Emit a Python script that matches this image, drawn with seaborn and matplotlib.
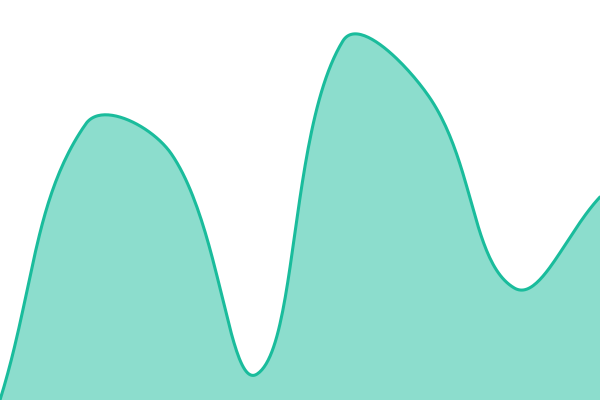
import numpy as np
import pandas as pd
import matplotlib
matplotlib.use("Agg")
import matplotlib.pyplot as plt
import seaborn as sns

# values (y axis 0..100, no axes shown)
positions = [0, 1, 2, 3, 4, 5, 6, 7]
values = [0, 69, 61.5, 6.5, 89.75, 76, 28, 50.75]

LINE_COLOR = "#1abc9c"
W, H = 600, 400
Y_MAX = 100
TENSION = 0.4


def spline_path(px, py, tension=TENSION, steps=50):
    """tension spline like the one chart.js draws, worked in pixels"""
    pts = np.column_stack([px, py]).astype(float)
    n = len(pts)
    prev_ctrl, next_ctrl = [], []
    for i in range(n):
        p_prev = pts[max(i - 1, 0)]
        p_cur = pts[i]
        p_next = pts[min(i + 1, n - 1)]
        d01 = np.linalg.norm(p_cur - p_prev)
        d12 = np.linalg.norm(p_next - p_cur)
        tot = d01 + d12
        s01 = d01 / tot if tot else 0
        s12 = d12 / tot if tot else 0
        fa, fb = tension * s01, tension * s12
        c_prev = p_cur - fa * (p_next - p_prev)
        c_next = p_cur + fb * (p_next - p_prev)
        # keep control points inside the plot area
        c_prev = np.clip(c_prev, [0, 0], [W, H])
        c_next = np.clip(c_next, [0, 0], [W, H])
        prev_ctrl.append(c_prev)
        next_ctrl.append(c_next)

    out = [pts[0]]
    t = np.linspace(0, 1, steps)[1:, None]
    for i in range(n - 1):
        p1, c1, c2, p2 = pts[i], next_ctrl[i], prev_ctrl[i + 1], pts[i + 1]
        seg = ((1 - t) ** 3 * p1 + 3 * (1 - t) ** 2 * t * c1
               + 3 * (1 - t) * t ** 2 * c2 + t ** 3 * p2)
        out.extend(seg)
    out = np.array(out)
    return out[:, 0], out[:, 1]


x_max = positions[-1]
px = np.array(positions) / x_max * W
py = H - np.array(values) / Y_MAX * H
cx, cy = spline_path(px, py)
curve = pd.DataFrame({"x": cx / W * x_max, "y": (H - cy) / H * Y_MAX})

sns.set_style("white")
fig = plt.figure(figsize=(6, 4), dpi=100)
ax = fig.add_axes([0, 0, 1, 1])

ax.fill_between(curve["x"], curve["y"], 0, color=LINE_COLOR, alpha=0.5, linewidth=0)
sns.lineplot(data=curve, x="x", y="y", sort=False, color=LINE_COLOR,
             linewidth=2.2, ax=ax)

ax.set_xlim(0, x_max)
ax.set_ylim(0, Y_MAX)
ax.axis("off")

fig.savefig("out.png", dpi=100)
